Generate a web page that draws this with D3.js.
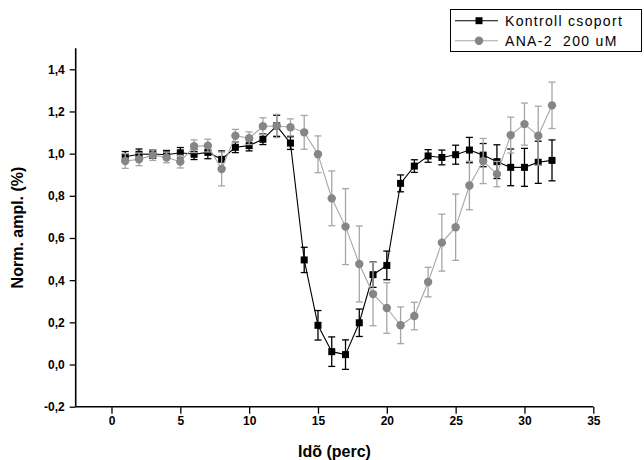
<!DOCTYPE html>
<html><head><meta charset="utf-8">
<script src="https://cdn.jsdelivr.net/npm/d3@7"></script>
<style>body{margin:0;background:#fff}svg{display:block}</style>
</head><body>
<script>
const times = [1,2,3,4,5,6,7,8,9,10,11,12,13,14,15,16,17,18,19,20,21,22,23,24,25,26,27,28,29,30,31,32];
const kontroll = [0.985,0.997,0.998,0.995,1.004,0.997,1.006,0.973,1.03,1.038,1.068,1.132,1.05,0.496,0.186,0.061,0.047,0.198,0.426,0.47,0.859,0.941,0.989,0.982,0.995,1.017,0.993,0.962,0.935,0.935,0.959,0.968];
const kontrollErr = [0.025,0.025,0.02,0.02,0.025,0.025,0.03,0.04,0.025,0.025,0.025,0.05,0.03,0.06,0.07,0.07,0.07,0.065,0.06,0.068,0.04,0.03,0.03,0.035,0.045,0.06,0.055,0.08,0.087,0.09,0.1,0.097];
const ana = [0.965,0.973,0.993,0.982,0.962,1.035,1.038,0.927,1.085,1.073,1.13,1.131,1.125,1.101,0.997,0.788,0.654,0.477,0.334,0.268,0.186,0.23,0.391,0.578,0.651,0.849,0.965,0.903,1.088,1.14,1.085,1.229];
const anaErr = [0.035,0.03,0.025,0.025,0.03,0.03,0.03,0.08,0.03,0.03,0.04,0.055,0.04,0.08,0.087,0.13,0.18,0.18,0.15,0.12,0.087,0.065,0.07,0.135,0.157,0.115,0.107,0.06,0.085,0.1,0.14,0.11];
const xTicks = [0,5,10,15,20,25,30,35];
const yTicks = [-0.2,0,0.2,0.4,0.6,0.8,1.0,1.2,1.4];
const legendLabels = ["Kontroll csoport","ANA-2  200 uM"];

const W = 644, H = 460;
const svg = d3.select("body").append("svg").attr("width",W).attr("height",H);
const x = d3.scaleLinear().domain([-2.6,35]).range([75.7,593.3]);
const y = d3.scaleLinear().domain([-0.2,1.5]).range([406.7,48.2]);
const fmt = v => d3.format(".1f")(v).replace(".",",").replace("−","-");
const font = "'Liberation Sans', Arial, sans-serif";

// axes
const xAxis = d3.axisBottom(x).tickValues(xTicks).tickSize(7).tickPadding(3).tickFormat(d3.format("d"));
const xMinor = d3.axisBottom(x).tickValues(d3.range(-2,36,1).filter(v=>v%5!==0)).tickSize(4).tickFormat("");
const yAxis = d3.axisLeft(y).tickValues(yTicks).tickSize(6).tickPadding(5).tickFormat(fmt);
const yMinor = d3.axisLeft(y).tickValues([-0.1,0.1,0.3,0.5,0.7,0.9,1.1,1.3,1.5]).tickSize(3).tickFormat("");

function style(g){
  g.select(".domain").attr("stroke","#000").attr("stroke-width",1.6);
  g.selectAll(".tick line").attr("stroke","#000").attr("stroke-width",1.3);
  g.selectAll("text").attr("font-family",font).attr("font-weight","bold").attr("font-size",12).attr("fill","#000");
}
const gy = svg.append("g").attr("transform","translate(75.7,0)");
gy.call(yMinor); gy.call(yAxis); style(gy);
gy.selectAll(".domain").attr("d",`M-0,${y(1.5)}V${y(-0.2)}`);
const gx = svg.append("g").attr("transform","translate(0,406.7)");
gx.call(xMinor); gx.call(xAxis); style(gx);
gx.selectAll(".domain").attr("d",`M${x(-2.6)},0H${x(35)}`);

// titles
svg.append("text").attr("x",334.5).attr("y",457).attr("text-anchor","middle")
  .attr("font-family",font).attr("font-weight","bold").attr("font-size",16).text("Idõ (perc)");
svg.append("text").attr("transform","translate(23,227.5) rotate(-90)").attr("text-anchor","middle")
  .attr("font-family",font).attr("font-weight","bold").attr("font-size",16).text("Norm. ampl. (%)");

function drawSeries(vals, errs, lineColor, errColor, markerColor, shape){
  const g = svg.append("g");
  const data = times.map((t,i)=>({t, v:vals[i], e:errs[i]}));
  g.append("path").datum(data).attr("fill","none").attr("stroke",lineColor).attr("stroke-width",1.1)
    .attr("d", d3.line().x(d=>x(d.t)).y(d=>y(d.v)));
  const eb = g.selectAll(".eb").data(data).enter().append("g").attr("stroke",errColor).attr("stroke-width",1.3);
  eb.append("line").attr("x1",d=>x(d.t)).attr("x2",d=>x(d.t)).attr("y1",d=>y(d.v+d.e)).attr("y2",d=>y(d.v-d.e));
  eb.append("line").attr("x1",d=>x(d.t)-3.5).attr("x2",d=>x(d.t)+3.5).attr("y1",d=>y(d.v+d.e)).attr("y2",d=>y(d.v+d.e));
  eb.append("line").attr("x1",d=>x(d.t)-3.5).attr("x2",d=>x(d.t)+3.5).attr("y1",d=>y(d.v-d.e)).attr("y2",d=>y(d.v-d.e));
  if(shape==="square"){
    g.selectAll(".m").data(data).enter().append("rect")
      .attr("x",d=>x(d.t)-3.5).attr("y",d=>y(d.v)-3.5).attr("width",7).attr("height",7).attr("fill",markerColor);
  } else {
    g.selectAll(".m").data(data).enter().append("circle")
      .attr("cx",d=>x(d.t)).attr("cy",d=>y(d.v)).attr("r",4.2).attr("fill",markerColor);
  }
}
drawSeries(kontroll, kontrollErr, "#000", "#000", "#000", "square");
drawSeries(ana, anaErr, "#a6a6a6", "#a6a6a6", "#868686", "circle");

// legend
const lg = svg.append("g");
lg.append("rect").attr("x",450.5).attr("y",9.5).attr("width",191).attr("height",42).attr("fill","#fff").attr("stroke","#000").attr("stroke-width",1);
const items = [{c:"#000",m:"#000",shape:"square",yy:20.7},{c:"#a6a6a6",m:"#868686",shape:"circle",yy:40.7}];
items.forEach((it,i)=>{
  lg.append("line").attr("x1",455).attr("x2",498).attr("y1",it.yy).attr("y2",it.yy).attr("stroke",it.c).attr("stroke-width",1.1);
  if(it.shape==="square") lg.append("rect").attr("x",475.5).attr("y",it.yy-3.5).attr("width",7).attr("height",7).attr("fill",it.m);
  else lg.append("circle").attr("cx",479).attr("cy",it.yy).attr("r",4.2).attr("fill",it.m);
  lg.append("text").attr("x",505).attr("y",it.yy+5).attr("font-family",font).attr("font-size",14)
    .attr("letter-spacing","1.3px").attr("xml:space","preserve").style("white-space","pre").text(legendLabels[i]);
});
</script>
</body></html>
